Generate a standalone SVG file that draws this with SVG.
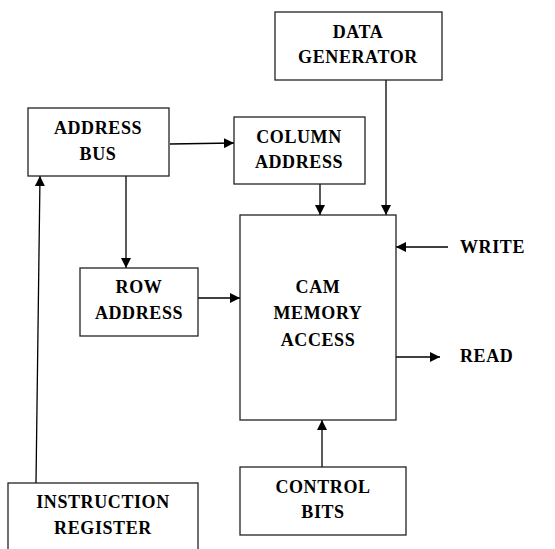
<svg xmlns="http://www.w3.org/2000/svg" width="555" height="549" viewBox="0 0 555 549">
  <style>
    .box { fill: #ffffff; stroke: #222222; stroke-width: 1.3; }
    .lbl { font-family: 'Liberation Serif', 'Times New Roman', Times, serif; font-weight: 700; font-size: 18px; letter-spacing: 0.6px; fill: #000000; text-anchor: middle; }
    .side { text-anchor: start; }
    .wire { stroke: #000000; stroke-width: 1.3; fill: none; marker-end: url(#arrow); }
  </style>
  <defs>
    <marker id="arrow" viewBox="0 0 10 10" refX="10" refY="5" markerWidth="10" markerHeight="10" markerUnits="userSpaceOnUse" orient="auto">
      <path d="M0,0 L10,5 L0,10 z" fill="#000000"/>
    </marker>
  </defs>
  <rect width="555" height="549" fill="#ffffff"/>

  <g id="connectors">
    <line class="wire" x1="170" y1="144" x2="234" y2="143"/>
    <line class="wire" x1="386" y1="80" x2="386" y2="215"/>
    <line class="wire" x1="320" y1="184" x2="320" y2="215"/>
    <line class="wire" x1="126" y1="176" x2="126" y2="268"/>
    <line class="wire" x1="198" y1="298" x2="240" y2="298"/>
    <line class="wire" x1="448" y1="247" x2="396" y2="247"/>
    <line class="wire" x1="396" y1="357" x2="440" y2="357"/>
    <line class="wire" x1="322" y1="467" x2="322" y2="420"/>
    <line class="wire" x1="36" y1="483" x2="40" y2="176"/>
  </g>

  <g id="data-generator">
    <rect class="box" x="275" y="12" width="167" height="68"/>
    <text class="lbl" x="358" y="38">DATA</text>
    <text class="lbl" x="358" y="63">GENERATOR</text>
  </g>

  <g id="address-bus">
    <rect class="box" x="28" y="108" width="141" height="68"/>
    <text class="lbl" x="98" y="134">ADDRESS</text>
    <text class="lbl" x="98" y="160">BUS</text>
  </g>

  <g id="column-address">
    <rect class="box" x="234" y="117" width="131" height="67"/>
    <text class="lbl" x="299" y="143">COLUMN</text>
    <text class="lbl" x="299" y="168">ADDRESS</text>
  </g>

  <g id="row-address">
    <rect class="box" x="80" y="268" width="118" height="68"/>
    <text class="lbl" x="139" y="293">ROW</text>
    <text class="lbl" x="139" y="319">ADDRESS</text>
  </g>

  <g id="cam-memory-access">
    <rect class="box" x="240" y="215" width="156" height="205"/>
    <text class="lbl" x="318" y="293">CAM</text>
    <text class="lbl" x="318" y="319">MEMORY</text>
    <text class="lbl" x="318" y="346">ACCESS</text>
  </g>

  <g id="write">
    <text class="lbl side" x="460" y="253">WRITE</text>
  </g>

  <g id="read">
    <text class="lbl side" x="460" y="362">READ</text>
  </g>

  <g id="control-bits">
    <rect class="box" x="240" y="467" width="166" height="68"/>
    <text class="lbl" x="323" y="493">CONTROL</text>
    <text class="lbl" x="323" y="518">BITS</text>
  </g>

  <g id="instruction-register">
    <rect class="box" x="8" y="483" width="190" height="70"/>
    <text class="lbl" x="103" y="508">INSTRUCTION</text>
    <text class="lbl" x="103" y="534">REGISTER</text>
  </g>
</svg>
